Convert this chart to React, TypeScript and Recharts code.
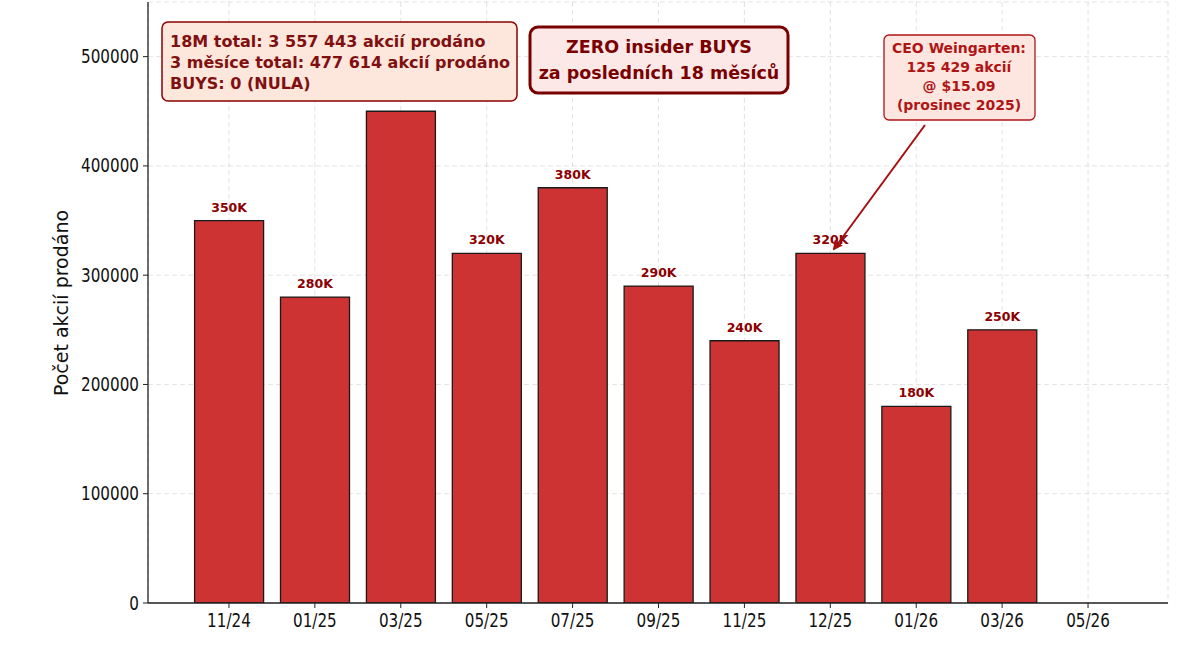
import React from "react"
import {
  BarChart,
  Bar,
  XAxis,
  YAxis,
  CartesianGrid,
  LabelList,
} from "recharts"

const months = ["11/24", "01/25", "03/25", "05/25", "07/25", "09/25", "11/25", "12/25", "01/26", "03/26", "05/26"]
const sharesSold = [350000, 280000, 450000, 320000, 380000, 290000, 240000, 320000, 180000, 250000, 0]
const barLabels = ["350K", "280K", "", "320K", "380K", "290K", "240K", "320K", "180K", "250K", ""]
const yTicks = [0, 100000, 200000, 300000, 400000, 500000]

const summaryLines = [
  "18M total: 3 557 443 akcií prodáno",
  "3 měsíce total: 477 614 akcií prodáno",
  "BUYS: 0 (NULA)",
]
const headlineLines = ["ZERO insider BUYS", "za posledních 18 měsíců"]
const ceoLines = ["CEO Weingarten:", "125 429 akcií", "@ $15.09", "(prosinec 2025)"]

const FONT = "'DejaVu Sans', sans-serif"
const DARK_RED = "#8b0000"
const SQUISH = 0.8

const chartData = months.map((m, i) => ({
  month: m,
  sold: sharesSold[i],
  label: barLabels[i],
}))

// the source render has narrow tick text, so squeeze it horizontally
function XTick(props: any) {
  const { x, y, payload } = props
  return (
    <g transform={`translate(${x},${y + 17}) scale(${SQUISH},1)`}>
      <text textAnchor="middle" fontSize={19} fill="#111" fontFamily={FONT}>
        {payload.value}
      </text>
    </g>
  )
}

function YTick(props: any) {
  const { x, y, payload } = props
  return (
    <g transform={`translate(${x - 2},${y + 6.5}) scale(${SQUISH},1)`}>
      <text textAnchor="end" fontSize={19} fill="#111" fontFamily={FONT}>
        {payload.value}
      </text>
    </g>
  )
}

function BarTopLabel(props: any) {
  const { x, y, width, value } = props
  if (!value) return null
  return (
    <text
      x={x + width / 2}
      y={y - 9}
      textAnchor="middle"
      fill={DARK_RED}
      fontSize={12.5}
      fontWeight="bold"
      fontFamily={FONT}
    >
      {value}
    </text>
  )
}

export default function App() {
  return (
    <div style={{ position: "absolute", left: 0, top: 0, width: 1200, height: 647, background: "#fff" }}>
      <BarChart
        width={1200}
        height={647}
        data={chartData}
        margin={{ top: 2, right: 32, left: 0, bottom: 0 }}
        barCategoryGap="10%"
        style={{ fontFamily: FONT }}
      >
        <XAxis
          dataKey="month"
          height={44}
          padding={{ left: 38, right: 37 }}
          tick={<XTick />}
          tickSize={5}
          tickLine={{ stroke: "#222" }}
          axisLine={{ stroke: "#222", strokeWidth: 1.3 }}
          interval={0}
        />
        <YAxis
          width={148}
          domain={[0, 550000]}
          ticks={yTicks}
          tick={<YTick />}
          tickSize={5}
          tickLine={{ stroke: "#222" }}
          axisLine={{ stroke: "#222", strokeWidth: 1.3 }}
          allowDataOverflow
        />
        <Bar
          dataKey="sold"
          fill="#cd3333"
          stroke="#1a1a1a"
          strokeWidth={1.3}
          isAnimationActive={false}
        >
          <LabelList dataKey="label" content={<BarTopLabel />} />
        </Bar>
        <CartesianGrid
          stroke="#b0b0b0"
          strokeOpacity={0.35}
          strokeDasharray="5 3"
        />
      </BarChart>

      <svg
        width={1200}
        height={647}
        style={{ position: "absolute", left: 0, top: 0, pointerEvents: "none" }}
        fontFamily={FONT}
      >
        <defs>
          <marker id="arrowHead" markerWidth="10" markerHeight="10" refX="8" refY="5" orient="auto" markerUnits="userSpaceOnUse">
            <path d="M0,0 L10,5 L0,10 z" fill="#a50f0f" />
          </marker>
        </defs>

        <text
          x={68}
          y={303}
          transform="rotate(-90 68 303)"
          textAnchor="middle"
          fontSize={19}
          fill="#111"
        >
          Počet akcií prodáno
        </text>

        {/* top-left summary box */}
        <rect x={162} y={22} width={355} height={79} rx={6} fill="#fde6dc" stroke={DARK_RED} strokeWidth={1.5} />
        {summaryLines.map((line, i) => (
          <text key={i} x={170} y={47 + i * 21} fontSize={16} fontWeight="bold" fill="#801010">
            {line}
          </text>
        ))}

        {/* headline box */}
        <rect x={530} y={27} width={258} height={66} rx={8} fill="#fde8e8" stroke="#7a0000" strokeWidth={3} />
        {headlineLines.map((line, i) => (
          <text key={i} x={659} y={53 + i * 26} textAnchor="middle" fontSize={17.5} fontWeight="bold" fill="#7a0000">
            {line}
          </text>
        ))}

        {/* CEO annotation */}
        <line x1={925} y1={125} x2={834} y2={249} stroke="#a50f0f" strokeWidth={2} markerEnd="url(#arrowHead)" />
        <rect x={884} y={35} width={151} height={85} rx={5} fill="#fde6e0" stroke="#b01515" strokeWidth={1.3} />
        {ceoLines.map((line, i) => (
          <text key={i} x={959} y={53 + i * 19} textAnchor="middle" fontSize={14} fontWeight="bold" fill="#b01515">
            {line}
          </text>
        ))}
      </svg>
    </div>
  )
}
